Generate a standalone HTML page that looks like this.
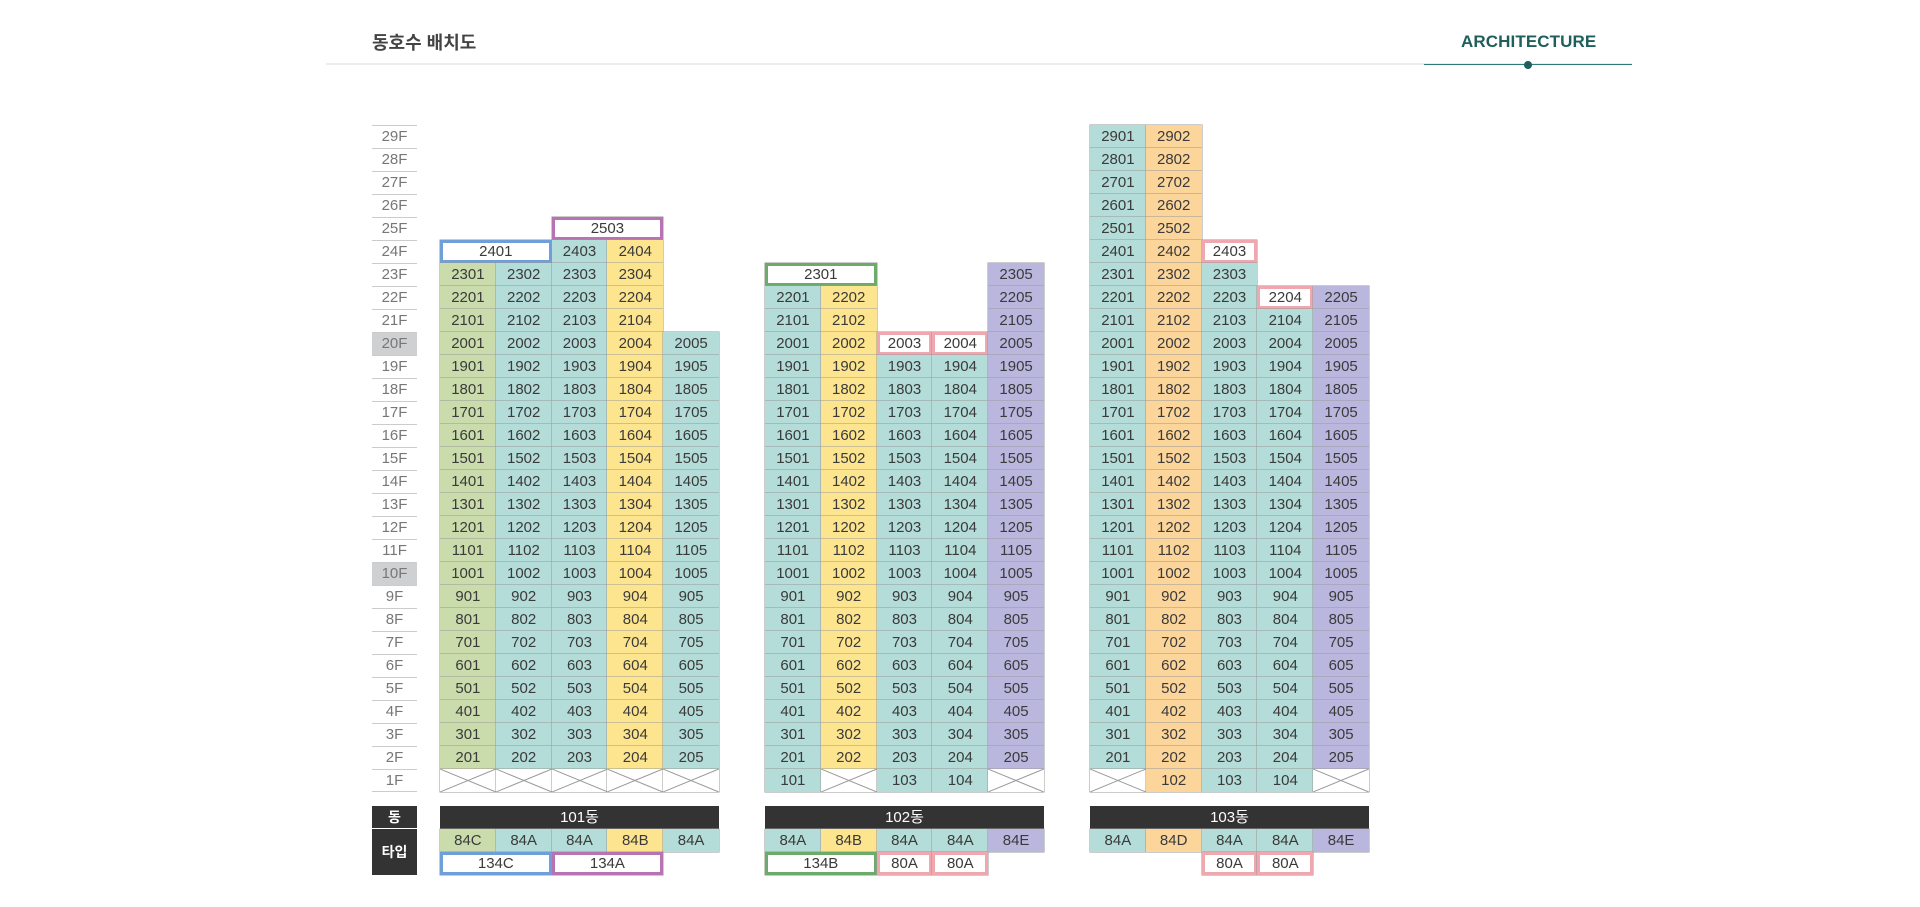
<!DOCTYPE html>
<html><head><meta charset="utf-8"><style>
*{margin:0;padding:0;box-sizing:border-box}
body{width:1920px;height:907px;background:#fff;position:relative;overflow:hidden;font-family:"Liberation Sans","Noto Sans CJK KR",sans-serif;color:#333}
.title{position:absolute;left:372px;top:29px;font-size:18px;font-weight:bold;color:#444}
.hl{position:absolute;left:326px;top:63px;width:1306px;height:2px;background:#ececec}
.arch{position:absolute;left:1461px;top:32px;font-family:"Liberation Sans",sans-serif;font-weight:bold;font-size:17px;color:#1e5f5c;letter-spacing:0.1px}
.al{position:absolute;left:1424px;top:64px;width:208px;height:1px;background:#2f7a76}
.dot{position:absolute;left:1524px;top:61px;width:8px;height:8px;border-radius:50%;background:#1e5f5c}
.fl{position:absolute;left:372px;top:125px;width:45px}
.fl div{height:23px;border-top:1px solid #ccc;font-size:15px;color:#777;text-align:center;line-height:22px}
.fl div:last-child{border-bottom:1px solid #ccc}
.fl .hg{background:#cfd0d2}
.b{position:absolute;width:279px;display:grid;grid-template-columns:repeat(5,1fr);grid-auto-rows:23px}
.b i{font-style:normal;font-size:15px;text-align:center;line-height:23px;color:#3a3a3a;position:relative}
.g,.t,.y,.o,.p,.x,.sb,.sp,.sg,.sk{box-shadow:0 0 0 .5px #999}
.g{background:#cadcac}.t{background:#b4dcd8}.y{background:#fde58f}.o{background:#fcd59b}.p{background:#bab7de}
.x{background:#fff}
.x svg{position:absolute;left:0;top:0;width:100%;height:100%}
.sb,.sp,.sg,.sk{background:#fff;border:3px solid;line-height:17px!important}
.sb{border-color:#6f9fd8}.sp{border-color:#b873b3}.sg{border-color:#6dab6a}.sk{border-color:#f0a8b0}
.r{grid-column-start:1}
.s12{grid-column:1/span 2}.s34{grid-column:3/span 2}.c5{grid-column-start:5}.c3{grid-column-start:3}
.dl{position:absolute;left:372px;width:45px;background:#333;color:#fff;font-size:14px;text-align:center;font-weight:bold}
.bar{position:absolute;width:279px;height:23px;background:#333;color:#fff;font-size:15px;text-align:center;line-height:23px}
</style></head><body>
<div class="title">동호수 배치도</div>
<div class="hl"></div>
<div class="arch">ARCHITECTURE</div>
<div class="al"></div><div class="dot"></div>

<div class="fl">
<div>29F</div><div>28F</div><div>27F</div><div>26F</div><div>25F</div><div>24F</div><div>23F</div><div>22F</div><div>21F</div><div class="hg">20F</div><div>19F</div><div>18F</div><div>17F</div><div>16F</div><div>15F</div><div>14F</div><div>13F</div><div>12F</div><div>11F</div><div class="hg">10F</div><div>9F</div><div>8F</div><div>7F</div><div>6F</div><div>5F</div><div>4F</div><div>3F</div><div>2F</div><div>1F</div>
</div>

<!-- 101 -->
<div class="b" style="left:440px;top:217px">
<i class="sp s34">2503</i>
<i class="sb s12">2401</i><i class="t">2403</i><i class="y">2404</i>
<i class="g r">2301</i><i class="t">2302</i><i class="t">2303</i><i class="y">2304</i>
<i class="g r">2201</i><i class="t">2202</i><i class="t">2203</i><i class="y">2204</i>
<i class="g r">2101</i><i class="t">2102</i><i class="t">2103</i><i class="y">2104</i>
<i class="g r">2001</i><i class="t">2002</i><i class="t">2003</i><i class="y">2004</i><i class="t">2005</i>
<i class="g">1901</i><i class="t">1902</i><i class="t">1903</i><i class="y">1904</i><i class="t">1905</i>
<i class="g">1801</i><i class="t">1802</i><i class="t">1803</i><i class="y">1804</i><i class="t">1805</i>
<i class="g">1701</i><i class="t">1702</i><i class="t">1703</i><i class="y">1704</i><i class="t">1705</i>
<i class="g">1601</i><i class="t">1602</i><i class="t">1603</i><i class="y">1604</i><i class="t">1605</i>
<i class="g">1501</i><i class="t">1502</i><i class="t">1503</i><i class="y">1504</i><i class="t">1505</i>
<i class="g">1401</i><i class="t">1402</i><i class="t">1403</i><i class="y">1404</i><i class="t">1405</i>
<i class="g">1301</i><i class="t">1302</i><i class="t">1303</i><i class="y">1304</i><i class="t">1305</i>
<i class="g">1201</i><i class="t">1202</i><i class="t">1203</i><i class="y">1204</i><i class="t">1205</i>
<i class="g">1101</i><i class="t">1102</i><i class="t">1103</i><i class="y">1104</i><i class="t">1105</i>
<i class="g">1001</i><i class="t">1002</i><i class="t">1003</i><i class="y">1004</i><i class="t">1005</i>
<i class="g">901</i><i class="t">902</i><i class="t">903</i><i class="y">904</i><i class="t">905</i>
<i class="g">801</i><i class="t">802</i><i class="t">803</i><i class="y">804</i><i class="t">805</i>
<i class="g">701</i><i class="t">702</i><i class="t">703</i><i class="y">704</i><i class="t">705</i>
<i class="g">601</i><i class="t">602</i><i class="t">603</i><i class="y">604</i><i class="t">605</i>
<i class="g">501</i><i class="t">502</i><i class="t">503</i><i class="y">504</i><i class="t">505</i>
<i class="g">401</i><i class="t">402</i><i class="t">403</i><i class="y">404</i><i class="t">405</i>
<i class="g">301</i><i class="t">302</i><i class="t">303</i><i class="y">304</i><i class="t">305</i>
<i class="g">201</i><i class="t">202</i><i class="t">203</i><i class="y">204</i><i class="t">205</i>
<i class="x"><svg viewBox="0 0 10 10" preserveAspectRatio="none"><path d="M0 0L10 10M10 0L0 10" stroke="#999" vector-effect="non-scaling-stroke"/></svg></i><i class="x"><svg viewBox="0 0 10 10" preserveAspectRatio="none"><path d="M0 0L10 10M10 0L0 10" stroke="#999" vector-effect="non-scaling-stroke"/></svg></i><i class="x"><svg viewBox="0 0 10 10" preserveAspectRatio="none"><path d="M0 0L10 10M10 0L0 10" stroke="#999" vector-effect="non-scaling-stroke"/></svg></i><i class="x"><svg viewBox="0 0 10 10" preserveAspectRatio="none"><path d="M0 0L10 10M10 0L0 10" stroke="#999" vector-effect="non-scaling-stroke"/></svg></i><i class="x"><svg viewBox="0 0 10 10" preserveAspectRatio="none"><path d="M0 0L10 10M10 0L0 10" stroke="#999" vector-effect="non-scaling-stroke"/></svg></i>
</div>

<!-- 102 -->
<div class="b" style="left:765px;top:263px">
<i class="sg s12">2301</i><i class="p c5">2305</i>
<i class="t r">2201</i><i class="y">2202</i><i class="p c5">2205</i>
<i class="t r">2101</i><i class="y">2102</i><i class="p c5">2105</i>
<i class="t r">2001</i><i class="y">2002</i><i class="sk">2003</i><i class="sk">2004</i><i class="p">2005</i>
<i class="t">1901</i><i class="y">1902</i><i class="t">1903</i><i class="t">1904</i><i class="p">1905</i>
<i class="t">1801</i><i class="y">1802</i><i class="t">1803</i><i class="t">1804</i><i class="p">1805</i>
<i class="t">1701</i><i class="y">1702</i><i class="t">1703</i><i class="t">1704</i><i class="p">1705</i>
<i class="t">1601</i><i class="y">1602</i><i class="t">1603</i><i class="t">1604</i><i class="p">1605</i>
<i class="t">1501</i><i class="y">1502</i><i class="t">1503</i><i class="t">1504</i><i class="p">1505</i>
<i class="t">1401</i><i class="y">1402</i><i class="t">1403</i><i class="t">1404</i><i class="p">1405</i>
<i class="t">1301</i><i class="y">1302</i><i class="t">1303</i><i class="t">1304</i><i class="p">1305</i>
<i class="t">1201</i><i class="y">1202</i><i class="t">1203</i><i class="t">1204</i><i class="p">1205</i>
<i class="t">1101</i><i class="y">1102</i><i class="t">1103</i><i class="t">1104</i><i class="p">1105</i>
<i class="t">1001</i><i class="y">1002</i><i class="t">1003</i><i class="t">1004</i><i class="p">1005</i>
<i class="t">901</i><i class="y">902</i><i class="t">903</i><i class="t">904</i><i class="p">905</i>
<i class="t">801</i><i class="y">802</i><i class="t">803</i><i class="t">804</i><i class="p">805</i>
<i class="t">701</i><i class="y">702</i><i class="t">703</i><i class="t">704</i><i class="p">705</i>
<i class="t">601</i><i class="y">602</i><i class="t">603</i><i class="t">604</i><i class="p">605</i>
<i class="t">501</i><i class="y">502</i><i class="t">503</i><i class="t">504</i><i class="p">505</i>
<i class="t">401</i><i class="y">402</i><i class="t">403</i><i class="t">404</i><i class="p">405</i>
<i class="t">301</i><i class="y">302</i><i class="t">303</i><i class="t">304</i><i class="p">305</i>
<i class="t">201</i><i class="y">202</i><i class="t">203</i><i class="t">204</i><i class="p">205</i>
<i class="t">101</i><i class="x"><svg viewBox="0 0 10 10" preserveAspectRatio="none"><path d="M0 0L10 10M10 0L0 10" stroke="#999" vector-effect="non-scaling-stroke"/></svg></i><i class="t">103</i><i class="t">104</i><i class="x"><svg viewBox="0 0 10 10" preserveAspectRatio="none"><path d="M0 0L10 10M10 0L0 10" stroke="#999" vector-effect="non-scaling-stroke"/></svg></i>
</div>

<!-- 103 -->
<div class="b" style="left:1090px;top:125px">
<i class="t r">2901</i><i class="o">2902</i>
<i class="t r">2801</i><i class="o">2802</i>
<i class="t r">2701</i><i class="o">2702</i>
<i class="t r">2601</i><i class="o">2602</i>
<i class="t r">2501</i><i class="o">2502</i>
<i class="t r">2401</i><i class="o">2402</i><i class="sk">2403</i>
<i class="t r">2301</i><i class="o">2302</i><i class="t">2303</i>
<i class="t r">2201</i><i class="o">2202</i><i class="t">2203</i><i class="sk">2204</i><i class="p">2205</i>
<i class="t">2101</i><i class="o">2102</i><i class="t">2103</i><i class="t">2104</i><i class="p">2105</i>
<i class="t">2001</i><i class="o">2002</i><i class="t">2003</i><i class="t">2004</i><i class="p">2005</i>
<i class="t">1901</i><i class="o">1902</i><i class="t">1903</i><i class="t">1904</i><i class="p">1905</i>
<i class="t">1801</i><i class="o">1802</i><i class="t">1803</i><i class="t">1804</i><i class="p">1805</i>
<i class="t">1701</i><i class="o">1702</i><i class="t">1703</i><i class="t">1704</i><i class="p">1705</i>
<i class="t">1601</i><i class="o">1602</i><i class="t">1603</i><i class="t">1604</i><i class="p">1605</i>
<i class="t">1501</i><i class="o">1502</i><i class="t">1503</i><i class="t">1504</i><i class="p">1505</i>
<i class="t">1401</i><i class="o">1402</i><i class="t">1403</i><i class="t">1404</i><i class="p">1405</i>
<i class="t">1301</i><i class="o">1302</i><i class="t">1303</i><i class="t">1304</i><i class="p">1305</i>
<i class="t">1201</i><i class="o">1202</i><i class="t">1203</i><i class="t">1204</i><i class="p">1205</i>
<i class="t">1101</i><i class="o">1102</i><i class="t">1103</i><i class="t">1104</i><i class="p">1105</i>
<i class="t">1001</i><i class="o">1002</i><i class="t">1003</i><i class="t">1004</i><i class="p">1005</i>
<i class="t">901</i><i class="o">902</i><i class="t">903</i><i class="t">904</i><i class="p">905</i>
<i class="t">801</i><i class="o">802</i><i class="t">803</i><i class="t">804</i><i class="p">805</i>
<i class="t">701</i><i class="o">702</i><i class="t">703</i><i class="t">704</i><i class="p">705</i>
<i class="t">601</i><i class="o">602</i><i class="t">603</i><i class="t">604</i><i class="p">605</i>
<i class="t">501</i><i class="o">502</i><i class="t">503</i><i class="t">504</i><i class="p">505</i>
<i class="t">401</i><i class="o">402</i><i class="t">403</i><i class="t">404</i><i class="p">405</i>
<i class="t">301</i><i class="o">302</i><i class="t">303</i><i class="t">304</i><i class="p">305</i>
<i class="t">201</i><i class="o">202</i><i class="t">203</i><i class="t">204</i><i class="p">205</i>
<i class="x"><svg viewBox="0 0 10 10" preserveAspectRatio="none"><path d="M0 0L10 10M10 0L0 10" stroke="#999" vector-effect="non-scaling-stroke"/></svg></i><i class="o">102</i><i class="t">103</i><i class="t">104</i><i class="x"><svg viewBox="0 0 10 10" preserveAspectRatio="none"><path d="M0 0L10 10M10 0L0 10" stroke="#999" vector-effect="non-scaling-stroke"/></svg></i>
</div>

<!-- bottom -->
<div class="dl" style="top:806px;height:22px;line-height:22px">동</div>
<div class="dl" style="top:829px;height:46px;line-height:46px">타입</div>

<div class="bar" style="left:440px;top:806px">101동</div>
<div class="b" style="left:440px;top:829px">
<i class="g">84C</i><i class="t">84A</i><i class="t">84A</i><i class="y">84B</i><i class="t">84A</i>
<i class="sb s12">134C</i><i class="sp s34">134A</i>
</div>

<div class="bar" style="left:765px;top:806px">102동</div>
<div class="b" style="left:765px;top:829px">
<i class="t">84A</i><i class="y">84B</i><i class="t">84A</i><i class="t">84A</i><i class="p">84E</i>
<i class="sg s12">134B</i><i class="sk">80A</i><i class="sk">80A</i>
</div>

<div class="bar" style="left:1090px;top:806px">103동</div>
<div class="b" style="left:1090px;top:829px">
<i class="t">84A</i><i class="o">84D</i><i class="t">84A</i><i class="t">84A</i><i class="p">84E</i>
<i class="sk c3">80A</i><i class="sk">80A</i>
</div>
</body></html>
